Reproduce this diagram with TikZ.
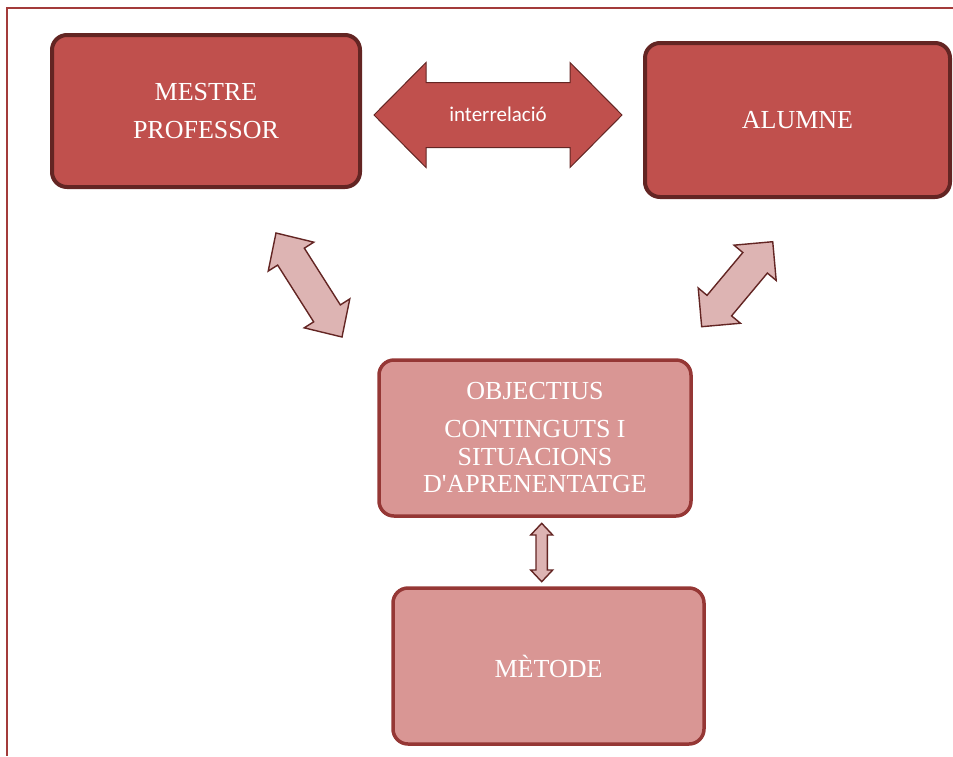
\documentclass[tikz,border=0pt]{standalone}
\usepackage{fontspec}
\setmainfont{Liberation Serif}
\newfontfamily\calib{Carlito}
\definecolor{darkfill}{HTML}{C0504D}
\definecolor{darkline}{HTML}{632523}
\definecolor{lightfill}{HTML}{D99694}
\definecolor{lightline}{HTML}{953735}
\definecolor{arrowfill}{HTML}{DDB4B3}
\definecolor{framecol}{HTML}{A33B3A}
\tikzset{
  mainbox/.style={rectangle, rounded corners=15pt, draw=darkline, fill=darkfill, line width=4pt, inner sep=0pt, text=white, align=center, font=\fontsize{26}{27.5}\selectfont},
  subbox/.style={rectangle, rounded corners=15pt, draw=lightline, fill=lightfill, line width=3.5pt, inner sep=0pt, text=white, align=center, font=\fontsize{26}{27.5}\selectfont},
  bigarrow/.style={draw=darkline, fill=darkfill, line width=1pt, line join=miter},
  smallarrow/.style={draw=darkline, fill=arrowfill, line width=1.4pt, line join=miter},
  frameline/.style={draw=framecol, line width=2pt},
}
% #1 style, #2 centre, #3 angle, #4 half length, #5 head length, #6 head half width, #7 shaft half width
\newcommand\blockdarrow[7]{%
  \begin{scope}[shift={#2}, rotate=#3]
    \draw[#1] (-#4,0) -- ({-#4+#5},#6) -- ({-#4+#5},#7) -- ({#4-#5},#7) -- ({#4-#5},#6) -- (#4,0)
      -- ({#4-#5},-#6) -- ({#4-#5},-#7) -- ({-#4+#5},-#7) -- ({-#4+#5},-#6) -- cycle;
  \end{scope}}
\begin{document}
\begin{tikzpicture}[x=1pt, y=-1pt]
\useasboundingbox (0,0) rectangle (953,756);
% frame
\coordinate (fTL) at (7,8);
\coordinate (fTR) at (953,8);
\coordinate (fBL) at (7,756);
\draw[frameline] (fTR) -- (fTL) -- (fBL);
% boxes
\node[mainbox, minimum width=308pt, minimum height=152pt] (prof) at (206,111) {MESTRE\\[10.5pt]PROFESSOR};
\node[mainbox, minimum width=305pt, minimum height=154pt] (alum) at (797.5,120) {ALUMNE};
\node[subbox, minimum width=312pt, minimum height=156pt] (obj) at (535,438) {OBJECTIUS\\[10.5pt]CONTINGUTS I\\SITUACIONS\\D\textquotesingle APRENENTATGE};
\node[subbox, minimum width=311pt, minimum height=156pt] (met) at (548.5,666) {MÈTODE};
% arrows
\blockdarrow{bigarrow}{(498,115)}{0}{124}{52}{52.5}{32.5}
\node[text=white, font=\calib\fontsize{21}{24}\selectfont, inner sep=0pt] (inter) at (498,114) {interrelació};
\blockdarrow{smallarrow}{(309,285)}{-57.6}{61.6}{28}{27}{15.8}
\blockdarrow{smallarrow}{(737.2,284.2)}{50.1}{55.4}{27.5}{27.5}{16}
\blockdarrow{smallarrow}{(541.7,552.5)}{90}{29.2}{11.7}{11}{5.7}
\end{tikzpicture}
\end{document}
